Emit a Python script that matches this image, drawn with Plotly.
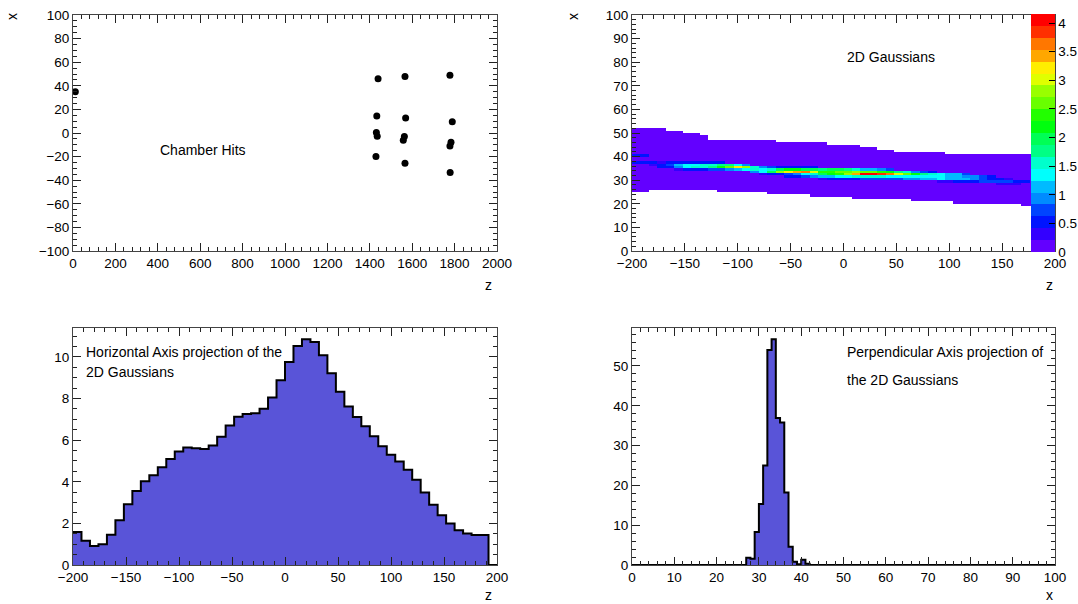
import plotly.graph_objects as go

W, H = 1078, 604
FONT = "Liberation Sans, Arial, Helvetica, sans-serif"

# ---------------- data ----------------
# Chamber hits: position along z and transverse x
hit_z = [11, 1439, 1566, 1778, 1433, 1569, 1789, 1431, 1435, 1563, 1558,
         1783, 1778, 1429, 1566, 1779]
hit_x = [35, 46, 47.8, 48.9, 14.5, 12.7, 9.5, 0.4, -2.7, -3.0, -6.1,
         -7.9, -11, -20, -25.7, -33.5]

# 2D Gaussians: 50 bins in z (-200..200, width 8), 100 bins in x (0..100, width 1)
Z_BINS, Z_LO, Z_W = 50, -200.0, 8.0
X_BINS, X_LO, X_W = 100, 0.0, 1.0

# extent of the faint tails per z bin: first and last+1 occupied x bin
tail_lo = [25, 25] + [26] * 8 + [25] * 6 + [24] * 5 + [23] * 5 + [22] * 7 + \
          [21] * 5 + [20] * 8 + [19] * 4
tail_hi = [52] * 4 + [51] * 2 + [50] * 2 + [49] + [47] * 8 + [46] * 6 + \
          [45] * 4 + [44] * 2 + [43] * 2 + [42] * 6 + [41] * 13
TAIL_LEVEL = 0.02

# bright core of the track: z bin -> {x bin: content}
core = {
    0: {40: 0.5, 37: 0.6},
    1: {40: 0.5, 37: 0.6},
    2: {37: 0.6, 36: 0.4},
    3: {37: 0.4, 36: 0.6, 35: 0.5},
    4: {37: 0.5, 36: 0.8, 35: 0.6},
    5: {37: 0.5, 36: 1.1, 35: 1.0, 34: 0.4},
    6: {37: 0.6, 36: 1.3, 35: 1.3, 34: 0.5},
    7: {37: 0.6, 36: 1.4, 35: 1.5, 34: 0.5},
    8: {37: 0.6, 36: 1.5, 35: 1.6, 34: 0.6},
    9: {37: 0.5, 36: 1.6, 35: 1.8, 34: 0.7},
    10: {37: 0.5, 36: 1.7, 35: 2.2, 34: 0.8},
    11: {36: 1.8, 35: 2.6, 34: 0.9},
    12: {36: 1.4, 35: 3.2, 34: 1.2},
    13: {36: 1.0, 35: 2.8, 34: 1.4},
    14: {35: 1.6, 34: 1.5, 33: 1.0},
    15: {35: 1.0, 34: 1.4, 33: 1.4, 32: 0.4},
    16: {35: 0.7, 34: 1.6, 33: 2.0, 32: 0.5},
    17: {35: 0.6, 34: 2.0, 33: 2.8, 32: 0.6},
    18: {35: 0.6, 34: 2.2, 33: 3.2, 32: 0.8, 31: 0.5},
    19: {35: 0.6, 34: 2.2, 33: 3.5, 32: 1.0, 31: 0.6},
    20: {35: 0.5, 34: 2.0, 33: 3.6, 32: 1.3, 31: 0.7},
    21: {35: 0.5, 34: 1.9, 33: 3.0, 32: 1.6, 31: 0.9},
    22: {34: 1.8, 33: 2.4, 32: 1.9, 31: 1.1, 30: 0.4},
    23: {34: 1.9, 33: 2.3, 32: 2.1, 31: 1.2, 30: 0.5},
    24: {34: 1.9, 33: 2.5, 32: 2.4, 31: 1.3, 30: 0.5},
    25: {34: 1.8, 33: 2.7, 32: 2.8, 31: 1.4, 30: 0.6},
    26: {34: 1.6, 33: 2.8, 32: 3.4, 31: 1.5, 30: 0.6},
    27: {34: 1.2, 33: 2.6, 32: 4.0, 31: 1.6, 30: 0.7},
    28: {34: 1.1, 33: 2.5, 32: 4.16, 31: 1.6, 30: 0.7},
    29: {34: 1.0, 33: 2.3, 32: 3.9, 31: 1.5, 30: 0.8},
    30: {34: 0.8, 33: 2.1, 32: 3.6, 31: 1.4, 30: 0.8},
    31: {33: 1.8, 32: 3.1, 31: 1.3, 30: 0.8},
    32: {33: 1.5, 32: 2.6, 31: 1.3, 30: 0.9},
    33: {33: 1.0, 32: 2.2, 31: 1.4, 30: 0.9},
    34: {33: 0.8, 32: 1.8, 31: 1.4, 30: 1.1},
    35: {33: 0.6, 32: 1.5, 31: 1.3, 30: 1.2},
    36: {32: 1.3, 31: 1.3, 30: 1.3, 29: 0.4},
    37: {32: 1.2, 31: 1.2, 30: 1.2, 29: 0.4},
    38: {32: 1.1, 31: 1.1, 30: 1.2, 29: 0.5},
    39: {32: 0.8, 31: 1.0, 30: 1.1, 29: 0.5},
    40: {31: 0.9, 30: 1.0, 29: 0.6},
    41: {31: 0.7, 30: 0.8, 29: 0.7},
    42: {31: 0.5, 30: 0.6, 29: 0.8},
    43: {30: 0.5, 29: 0.8, 28: 0.3},
    44: {30: 0.4, 29: 0.7, 28: 0.4},
    45: {29: 0.6, 28: 0.4},
    46: {29: 0.5},
}

# Projection on the horizontal axis (z), 50 bins of width 8
proj_z = [1.59, 1.16, 0.91, 1.00, 1.45, 2.15, 2.92, 3.56, 4.02, 4.32,
          4.70, 5.10, 5.45, 5.65, 5.61, 5.58, 5.74, 6.17, 6.71, 7.13,
          7.26, 7.30, 7.51, 8.05, 8.88, 9.76, 10.53, 10.85, 10.72, 10.08,
          9.22, 8.33, 7.62, 7.11, 6.67, 6.19, 5.71, 5.30, 4.98, 4.58,
          4.10, 3.48, 2.90, 2.39, 1.99, 1.67, 1.52, 1.44, 1.44, 0.0]

# Projection on the perpendicular axis (x), 100 bins of width 1; only filled bins listed
proj_x_first_bin = 27
proj_x_filled = [1.8, 1.6, 8.3, 15.3, 25.0, 54.0, 56.7, 36.9, 35.8, 18.2,
                 4.6, 0.8, 0.2, 1.3, 0.3]

# ROOT "pretty palette" (violet -> red), 20 contour levels
palette = ["#6300ff", "#3300ff", "#0014ff", "#0044ff", "#008bff", "#00bbff",
           "#00fffc", "#00ffcc", "#00ff85", "#00ff55", "#00ff0e", "#22ff00",
           "#69ff00", "#99ff00", "#e0ff00", "#ffee00", "#ffa700", "#ff7700",
           "#ff3000", "#ff0000"]

# ---------------- build arrays ----------------
grid = [[None] * Z_BINS for _ in range(X_BINS)]
for k in range(Z_BINS):
    for j in range(tail_lo[k], tail_hi[k]):
        grid[j][k] = TAIL_LEVEL
for k, cells in core.items():
    for j, v in cells.items():
        grid[j][k] = v
zmax = max(v for row in grid for v in row if v is not None)

n = len(palette)
colorscale = []
for i, c in enumerate(palette):
    colorscale.append([i / n, c])
    colorscale.append([(i + 1) / n, c])

proj_x = [0.0] * X_BINS
for i, v in enumerate(proj_x_filled):
    proj_x[proj_x_first_bin + i] = v


def step_outline(lo, width, values):
    xs = [lo + i * width for i in range(len(values))] + [lo + len(values) * width]
    ys = list(values) + [values[-1]]
    return xs, ys


# ---------------- layout helpers ----------------
def xdom(a, b):
    return [a / W, b / W]


def ydom(top, bottom):
    return [1 - bottom / H, 1 - top / H]


LEFT = (73, 497)
RIGHT = (632, 1055)
TOP = (15, 251)
BOTTOM = (328, 565)

FRAME = "#444444"


def axis(rng, dtick, minor, domain, anchor, tick0=0):
    return dict(
        range=rng, domain=domain, anchor=anchor, dtick=dtick, tick0=tick0,
        ticks="inside", ticklen=8, tickwidth=1, tickcolor="#222222",
        mirror="ticks", showline=True, linecolor=FRAME, linewidth=1,
        showgrid=False, zeroline=False, fixedrange=True, automargin=False,
        minor=dict(dtick=minor, tick0=tick0, ticks="inside", ticklen=4,
                   tickwidth=1, tickcolor="#222222", showgrid=False),
        tickfont=dict(family=FONT, size=13.5, color="black"),
    )


fig = go.Figure()

# Chamber hits
fig.add_trace(go.Scatter(
    x=hit_z, y=hit_x, mode="markers",
    marker=dict(color="black", size=7),
    xaxis="x", yaxis="y", showlegend=False,
))

# 2D Gaussians
fig.add_trace(go.Heatmap(
    z=grid, x0=Z_LO + Z_W / 2, dx=Z_W, y0=X_LO + X_W / 2, dy=X_W,
    zmin=0, zmax=zmax, colorscale=colorscale, zsmooth=False,
    xaxis="x2", yaxis="y2", hoverongaps=False,
    colorbar=dict(
        x=1031 / W, xanchor="left", xpad=0,
        y=1 - 14 / H, yanchor="top", ypad=0,
        len=238, lenmode="pixels", thickness=24, thicknessmode="pixels",
        outlinewidth=0, ticks="inside", ticklen=6, tickcolor="black",
        tickvals=[0, 0.5, 1, 1.5, 2, 2.5, 3, 3.5, 4],
        ticktext=["0", "0.5", "1", "1.5", "2", "2.5", "3", "3.5", "4"],
        tickfont=dict(family=FONT, size=13.5, color="black"),
    ),
))

HIST_FILL = "#5954d8"

xs, ys = step_outline(Z_LO, Z_W, proj_z)
fig.add_trace(go.Scatter(
    x=xs, y=ys, mode="lines", line=dict(color="black", width=2, shape="hv"),
    fill="tozeroy", fillcolor=HIST_FILL, xaxis="x3", yaxis="y3", showlegend=False,
))

xs, ys = step_outline(X_LO, X_W, proj_x)
fig.add_trace(go.Scatter(
    x=xs, y=ys, mode="lines", line=dict(color="black", width=2, shape="hv"),
    fill="tozeroy", fillcolor=HIST_FILL, xaxis="x4", yaxis="y4", showlegend=False,
))

fig.update_layout(
    template="none",
    width=W, height=H, margin=dict(l=0, r=0, t=0, b=0, pad=0, autoexpand=False),
    paper_bgcolor="white", plot_bgcolor="white", showlegend=False,
    font=dict(family=FONT, size=14, color="black"),
    xaxis=axis([0, 2000], 200, 40, xdom(*LEFT), "y"),
    yaxis=axis([-100, 100], 20, 5, ydom(*TOP), "x"),
    xaxis2=axis([-200, 200], 50, 10, xdom(*RIGHT), "y2"),
    yaxis2=axis([0, 100], 10, 2, ydom(*TOP), "x2"),
    xaxis3=axis([-200, 200], 50, 10, xdom(*LEFT), "y3"),
    yaxis3=axis([0, max(proj_z) * 1.05], 2, 0.5, ydom(*BOTTOM), "x3"),
    xaxis4=axis([0, 100], 10, 2, xdom(*RIGHT), "y4"),
    yaxis4=axis([0, max(proj_x) * 1.05], 10, 2, ydom(*BOTTOM), "x4"),
)


def label(text, px, py, xanchor="left", yanchor="middle", size=14, angle=0):
    fig.add_annotation(
        text=text, x=px / W, y=1 - py / H, xref="paper", yref="paper",
        xanchor=xanchor, yanchor=yanchor, showarrow=False, textangle=angle,
        font=dict(family=FONT, size=size, color="black"),
    )


label("Chamber Hits", 158, 150)
label("2D Gaussians", 845, 57)
label("Horizontal Axis projection of the", 84, 352)
label("2D Gaussians", 84, 372)
label("Perpendicular Axis projection of", 845, 352)
label("the 2D Gaussians", 845, 380)

# axis titles
label("x", 12, 17, xanchor="center", angle=-90)
label("x", 573, 17, xanchor="center", angle=-90)
label("z", 494, 285, xanchor="right")
label("z", 1055, 285, xanchor="right")
label("z", 494, 595, xanchor="right")
label("x", 1055, 595, xanchor="right")

fig.write_html("out.html")
